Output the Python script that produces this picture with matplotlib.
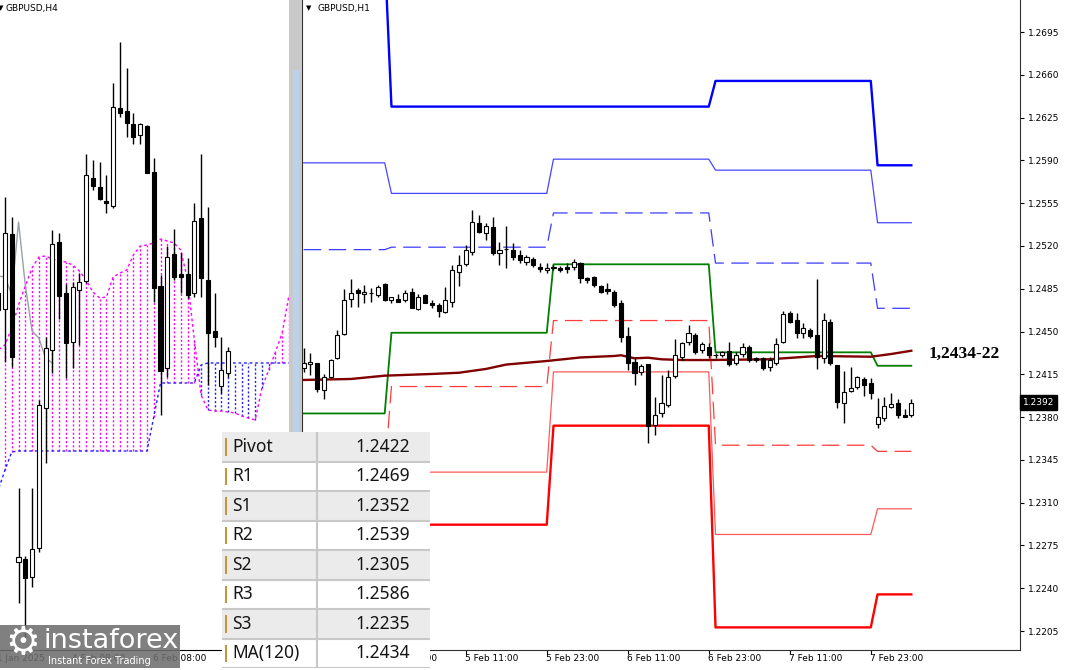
import numpy as np
import matplotlib.pyplot as plt
from matplotlib.patches import Rectangle
from matplotlib.transforms import blended_transform_factory

W, H = 1068, 670

# ---------------- H1 candles (bar index 0 = 4 Feb 11:00) ----------------
h1_open = [1.24202, 1.24234, 1.24243, 1.24022, 1.24126, 1.24281, 1.24477, 1.24764, 1.24840, 1.24807,
           1.24818, 1.24799, 1.24889, 1.24758, 1.24766, 1.24758, 1.24823, 1.24684, 1.24799, 1.24736,
           1.24717, 1.24662, 1.24742, 1.24990, 1.25050, 1.25153, 1.25390, 1.25304, 1.25358, 1.25140,
           1.25178, 1.25167, 1.25126, 1.25071, 1.25091, 1.25028, 1.25003, 1.25017, 1.25020, 1.25030,
           1.25030, 1.25063, 1.24936, 1.24944, 1.24873, 1.24850, 1.24826, 1.24736, 1.24464, 1.24253,
           1.24171, 1.24234, 1.23735, 1.23831, 1.23899, 1.24136, 1.24294, 1.24417, 1.24472, 1.24349,
           1.24376, 1.24308, 1.24308, 1.24343, 1.24245, 1.24316, 1.24371, 1.24281, 1.24281, 1.24212,
           1.24240, 1.24417, 1.24649, 1.24594, 1.24491, 1.24513, 1.24472, 1.24281, 1.24580, 1.24226,
           1.23913, 1.24016, 1.24044, 1.24109, 1.24077, 1.23744, 1.23790, 1.23880, 1.23913, 1.23817,
           1.23817]
h1_high = [1.24365, 1.24327, 1.24245, 1.24153, 1.24275, 1.24513, 1.24848, 1.24930, 1.24856, 1.24881,
           1.24856, 1.24881, 1.24897, 1.24783, 1.24807, 1.24840, 1.24859, 1.24807, 1.24807, 1.24758,
           1.24733, 1.24867, 1.25044, 1.25126, 1.25208, 1.25494, 1.25453, 1.25385, 1.25439, 1.25235,
           1.25363, 1.25224, 1.25167, 1.25126, 1.25112, 1.25058, 1.25058, 1.25044, 1.25036, 1.25063,
           1.25093, 1.25071, 1.24949, 1.24954, 1.24881, 1.24895, 1.24840, 1.24758, 1.24540, 1.24294,
           1.24234, 1.24234, 1.23967, 1.24144, 1.24185, 1.24436, 1.24417, 1.24553, 1.24491, 1.24417,
           1.24404, 1.24322, 1.24343, 1.24417, 1.24335, 1.24404, 1.24390, 1.24294, 1.24294, 1.24294,
           1.24445, 1.24670, 1.24670, 1.24649, 1.24567, 1.24527, 1.24927, 1.24649, 1.24600, 1.24226,
           1.24180, 1.24212, 1.24136, 1.24126, 1.24117, 1.23954, 1.23967, 1.23995, 1.23946, 1.23864,
           1.23946]
h1_low = [1.24169, 1.24144, 1.24007, 1.23948, 1.24120, 1.24275, 1.24472, 1.24703, 1.24703, 1.24733,
          1.24744, 1.24783, 1.24752, 1.24733, 1.24742, 1.24744, 1.24690, 1.24676, 1.24733, 1.24692,
          1.24621, 1.24649, 1.24703, 1.24873, 1.25036, 1.25126, 1.25304, 1.25249, 1.25126, 1.25044,
          1.25017, 1.25085, 1.25058, 1.25044, 1.25030, 1.24990, 1.24976, 1.25003, 1.24990, 1.24981,
          1.25003, 1.24895, 1.24895, 1.24862, 1.24813, 1.24807, 1.24701, 1.24417, 1.24185, 1.24063,
          1.24144, 1.23591, 1.23654, 1.23803, 1.23880, 1.24117, 1.24267, 1.24390, 1.24316, 1.24322,
          1.24281, 1.24281, 1.24294, 1.24218, 1.24226, 1.24294, 1.24253, 1.24253, 1.24185, 1.24180,
          1.24226, 1.24404, 1.24567, 1.24445, 1.24445, 1.24445, 1.24191, 1.24240, 1.24226, 1.23872,
          1.23749, 1.24007, 1.24027, 1.23973, 1.23946, 1.23709, 1.23771, 1.23872, 1.23790, 1.23798,
          1.23803]
h1_close = [1.24243, 1.24253, 1.24030, 1.24131, 1.24267, 1.24472, 1.24758, 1.24818, 1.24818, 1.24823,
            1.24818, 1.24867, 1.24758, 1.24783, 1.24744, 1.24815, 1.24690, 1.24783, 1.24736, 1.24717,
            1.24668, 1.24758, 1.25003, 1.25044, 1.25167, 1.25398, 1.25312, 1.25363, 1.25140, 1.25167,
            1.25178, 1.25112, 1.25085, 1.25107, 1.25044, 1.25014, 1.25017, 1.25030, 1.25003, 1.25009,
            1.25071, 1.24936, 1.24922, 1.24881, 1.24821, 1.24834, 1.24717, 1.24458, 1.24245, 1.24163,
            1.24218, 1.23727, 1.23817, 1.23913, 1.24126, 1.24308, 1.24404, 1.24486, 1.24335, 1.24398,
            1.24308, 1.24308, 1.24335, 1.24234, 1.24308, 1.24376, 1.24267, 1.24267, 1.24199, 1.24267,
            1.24398, 1.24643, 1.24580, 1.24486, 1.24527, 1.24464, 1.24289, 1.24594, 1.24240, 1.23926,
            1.24008, 1.24036, 1.24126, 1.24063, 1.24000, 1.23798, 1.23891, 1.23905, 1.23817, 1.23803,
            1.23918]

# daily pivot levels (4 Feb .. 8 Feb), bars per day
day_len = [13, 24, 24, 24, 6]
lvl_r3 = [1.2760, 1.2634, 1.2634, 1.2655, 1.2586]
lvl_r2 = [1.2588, 1.2563, 1.2591, 1.2582, 1.2539]
lvl_r1 = [1.2517, 1.2519, 1.2547, 1.2506, 1.2469]
lvl_pp = [1.2383, 1.2449, 1.2505, 1.2433, 1.2422]
lvl_s1 = [1.2335, 1.2405, 1.2459, 1.2357, 1.2352]
lvl_s2 = [1.2290, 1.2335, 1.2417, 1.2284, 1.2305]
lvl_s3 = [1.2250, 1.2292, 1.2373, 1.2208, 1.2235]

# MA(120) read at some bars
ma_idx = [0, 7, 12, 19, 23, 27, 30, 36, 41, 46, 47, 49, 51, 53, 56, 60, 69, 76, 84, 87, 90]
ma_val = [1.24104, 1.24112, 1.24139, 1.24153, 1.24163, 1.24194, 1.24230, 1.24259, 1.24288, 1.24300,
          1.24306, 1.24281, 1.24286, 1.24273, 1.24267, 1.24267, 1.24273, 1.24300, 1.24294, 1.24316,
          1.24343]

h1_ticks = [1.2205, 1.2240, 1.2275, 1.2310, 1.2345, 1.2380, 1.2415, 1.2450, 1.2485, 1.2520,
            1.2555, 1.2590, 1.2625, 1.2660, 1.2695]
h1_xtick_idx = [12, 24, 36, 48, 60, 72, 84]
h1_xtick_lab = ['4 Feb 23:00', '5 Feb 11:00', '5 Feb 23:00', '6 Feb 11:00',
                '6 Feb 23:00', '7 Feb 11:00', '7 Feb 23:00']

# ---------------- H4 candles (bar index -1 .. 33) ----------------
h4_open = [1.24245, 1.24164, 1.24540, 1.22899, 1.22915, 1.22825, 1.22970, 1.23670, 1.23960, 1.24500,
           1.24245, 1.24000, 1.24260, 1.24305, 1.24820, 1.24775, 1.24705, 1.24680, 1.25170, 1.25155,
           1.25090, 1.25035, 1.25080, 1.24850, 1.24280, 1.23870, 1.24440, 1.24340, 1.24340, 1.24245,
           1.24620, 1.24310, 1.24055, 1.23780, 1.23845]
h4_high = [1.24285, 1.24727, 1.24627, 1.23270, 1.22930, 1.23270, 1.23710, 1.24025, 1.24560, 1.24545,
           1.24290, 1.24300, 1.24345, 1.24940, 1.24910, 1.24900, 1.24835, 1.25295, 1.25500, 1.25370,
           1.25145, 1.25095, 1.25085, 1.24920, 1.24335, 1.24480, 1.24565, 1.24445, 1.24420, 1.24695,
           1.24940, 1.24675, 1.24245, 1.24025, 1.23975]
h4_low = [1.24135, 1.23899, 1.23877, 1.22695, 1.22510, 1.22775, 1.22950, 1.23395, 1.23845, 1.24115,
          1.23820, 1.23870, 1.23985, 1.24295, 1.24760, 1.24710, 1.24645, 1.24670, 1.25125, 1.25025,
          1.24990, 1.24990, 1.24845, 1.24200, 1.23635, 1.23825, 1.24310, 1.24245, 1.24220, 1.24225,
          1.24225, 1.23785, 1.23975, 1.23745, 1.23825]
h4_close = [1.24160, 1.24547, 1.23925, 1.22927, 1.22820, 1.22965, 1.23685, 1.23970, 1.24490, 1.24230,
            1.23995, 1.24275, 1.24300, 1.24835, 1.24780, 1.24715, 1.24695, 1.25175, 1.25145, 1.25095,
            1.25025, 1.25090, 1.24845, 1.24270, 1.23855, 1.24425, 1.24325, 1.24325, 1.24235, 1.24605,
            1.24320, 1.24045, 1.24025, 1.23860, 1.23955]

# Ichimoku cloud (bar index -1 .. 42)
span_a = [1.23960, 1.23985, 1.24070, 1.24185, 1.24280, 1.24370, 1.24425, 1.24430, 1.24415, 1.24405,
          1.24400, 1.24385, 1.24355, 1.24310, 1.24250, 1.24220, 1.24225, 1.24325, 1.24345, 1.24360,
          1.24435, 1.24480, 1.24485, 1.24495, 1.24515, 1.24505, 1.24495, 1.24460, 1.24310, 1.24010,
          1.23735, 1.23660, 1.23655, 1.23655, 1.23650, 1.23645, 1.23630, 1.23620, 1.23610, 1.23770,
          1.23860, 1.23950, 1.24045, 1.24235]
span_b = [1.23260, 1.23360, 1.23450, 1.23455, 1.23455, 1.23455, 1.23455, 1.23455, 1.23455, 1.23455,
          1.23455, 1.23455, 1.23455, 1.23455, 1.23455, 1.23455, 1.23455, 1.23455, 1.23455, 1.23455,
          1.23455, 1.23455, 1.23455, 1.23625, 1.23795, 1.23795, 1.23795, 1.23795, 1.23795, 1.23795,
          1.23885, 1.23895, 1.23895, 1.23895, 1.23895, 1.23895, 1.23895, 1.23895, 1.23895, 1.23895,
          1.23895, 1.23895, 1.23895, 1.23895]
chikou = [1.24330, 1.24325, 1.24235, 1.24600, 1.24285, 1.24055, 1.24020, 1.23920, 1.23895]

h4_xlab_idx = [-2, 10, 22]
h4_xlab = ['31 Jan 2025', '4 Feb 08:00', '6 Feb 08:00']

tbl_names = ['Pivot', 'R1', 'S1', 'R2', 'S2', 'R3', 'S3', 'MA(120)']
tbl_values = ['1.2422', '1.2469', '1.2352', '1.2539', '1.2305', '1.2586', '1.2235', '1.2434']

last_price = 1.2392


def box(x0, y0, x1, y1):
    return [x0 / W, 1 - y1 / H, (x1 - x0) / W, (y1 - y0) / H]


def draw_candles(ax, start, o, h, l, c):
    o, h, l, c = map(np.asarray, (o, h, l, c))
    xs = np.arange(start, start + len(o))
    ax.vlines(xs, l, h, color='black', lw=1, zorder=5)
    fill = np.where(c >= o, 'white', 'black')
    ax.bar(xs, np.abs(c - o), 0.6, bottom=np.minimum(o, c), color=fill,
           edgecolor='black', linewidth=0.8, zorder=6)


fig = plt.figure(figsize=(W / 100, H / 100), dpi=100)
fig.patch.set_facecolor('white')

# panel separator
fig.patches.append(Rectangle((289 / W, 1 - 650 / H), 13 / W, 650 / H, transform=fig.transFigure,
                             facecolor='#c9c9c9', edgecolor='none', zorder=0))
fig.patches.append(Rectangle((293 / W, 1 - 650 / H), 6 / W, 580 / H, transform=fig.transFigure,
                             facecolor='#bcd2ea', edgecolor='none', zorder=0))

# ---------------- H4 panel ----------------
ax4 = fig.add_axes(box(0, 0, 291, 650))
ax4.set_xlim(-0.74, 42.3)
ax4.set_ylim(1.2246, 1.2571)
for s in ['top', 'left']:
    ax4.spines[s].set_visible(False)
ax4.spines['right'].set_color('#303030')
ax4.set_xticks([])
ax4.set_yticks([])

k = np.arange(-1, -1 + len(span_a))
a = np.array(span_a)
b = np.array(span_b)
for kk, va, vb in zip(k, a, b):
    col = '#ff00ff' if va > vb else '#2020ff'
    ax4.vlines(kk, min(va, vb), max(va, vb), color=col, lw=1, linestyles=(0, (1.5, 1.5)), zorder=2)
ax4.plot(k, a, color='#ff00ff', lw=1, ls=(0, (2, 2)), zorder=3)
ax4.plot(k, b, color='#2020ff', lw=1, ls=(0, (2, 2)), zorder=3)
ax4.plot(np.arange(-1, -1 + len(chikou)), chikou, color='#9aa0a8', lw=1, zorder=4)
draw_candles(ax4, -1, h4_open, h4_high, h4_low, h4_close)

tr4 = blended_transform_factory(ax4.transData, ax4.transAxes)
for kk, lab in zip(h4_xlab_idx, h4_xlab):
    ax4.text(kk - 0.1, -0.0138, lab, transform=tr4, ha='left', va='center', fontsize=6.5,
             clip_on=False)
fig.text(1 / W, 1 - 8 / H, '\u25bc', fontsize=5, va='center', ha='center')
fig.text(6 / W, 1 - 8 / H, 'GBPUSD,H4', fontsize=6.5, va='center', ha='left')

# ---------------- H1 panel ----------------
ax1 = fig.add_axes(box(302, 0, 1020, 650))
ax1.set_xlim(-0.25, 106.1)
ax1.set_ylim(1.21895, 1.27212)
ax1.spines['top'].set_visible(False)
for s in ['left', 'right', 'bottom']:
    ax1.spines[s].set_color('#303030')
ax1.yaxis.tick_right()
ax1.set_yticks(h1_ticks)
ax1.set_yticklabels(['%.4f' % t for t in h1_ticks], fontsize=6.5)
ax1.tick_params(axis='y', length=3, pad=3, width=0.8)
ax1.set_xticks(h1_xtick_idx)
ax1.set_xticklabels([''] * len(h1_xtick_idx))
ax1.tick_params(axis='x', length=3, width=0.8)

idx = np.arange(sum(day_len))
levels = [
    (lvl_r3, '#0000ff', 1.7, '-'),
    (lvl_r2, '#4646ff', 0.9, '-'),
    (lvl_r1, '#3c3cff', 0.9, (0, (14, 6))),
    (lvl_s1, '#ff3c3c', 0.9, (0, (14, 6))),
    (lvl_s2, '#ff5a5a', 0.9, '-'),
    (lvl_s3, '#ff0000', 1.7, '-'),
    (lvl_pp, '#008000', 1.3, '-'),
]
for lv, col, lw, ls in levels:
    ax1.plot(idx, np.repeat(lv, day_len), color=col, lw=lw, ls=ls, zorder=3)
ax1.plot(ma_idx, ma_val, color='#800000', lw=1.7, zorder=4)
draw_candles(ax1, 0, h1_open, h1_high, h1_low, h1_close)

tr1 = blended_transform_factory(ax1.transData, ax1.transAxes)
for ii, lab in zip(h1_xtick_idx, h1_xtick_lab):
    ax1.text(ii - 0.15, -0.0138, lab, transform=tr1, ha='left', va='center', fontsize=6.5,
             clip_on=False)

ax1.text(92.5, 1.2432, '1,2434-22', fontsize=12.5, fontweight='bold', family='Liberation Serif',
         ha='left', va='center', zorder=7)
trp = blended_transform_factory(ax1.transAxes, ax1.transData)
ax1.text(1.004, last_price, '%.4f' % last_price, transform=trp, fontsize=6.5, color='white',
         ha='left', va='center', clip_on=False,
         bbox=dict(boxstyle='square,pad=0.3', facecolor='black', edgecolor='black'))
fig.text(309 / W, 1 - 8 / H, '\u25bc', fontsize=5, va='center', ha='center')
fig.text(318 / W, 1 - 8 / H, 'GBPUSD,H1', fontsize=6.5, va='center', ha='left')

# ---------------- levels table ----------------
axt = fig.add_axes(box(222, 432, 430, 668), zorder=10)
axt.set_xlim(0, 208)
axt.set_ylim(236, 0)
axt.axis('off')
row_h = 236 / len(tbl_names)
for r, (nm, val) in enumerate(zip(tbl_names, tbl_values)):
    y0 = r * row_h
    axt.add_patch(Rectangle((0, y0), 208, row_h, facecolor='#ebebeb' if r % 2 == 0 else 'white',
                            edgecolor='none'))
    axt.plot([0, 208], [y0 + row_h, y0 + row_h], color='#c8c8c8', lw=1.5)
    axt.add_patch(Rectangle((2.5, y0 + 6), 2, row_h - 12, facecolor='#c8943a', edgecolor='none'))
    axt.text(10, y0 + row_h / 2, nm, fontsize=12.5, family='Noto Sans', color='#151515',
             ha='left', va='center')
    axt.text(188, y0 + row_h / 2, val, fontsize=12.5, family='Noto Sans', color='#151515',
             ha='right', va='center')
axt.plot([95, 95], [0, 236], color='#c8c8c8', lw=1.5)

# ---------------- watermark ----------------
axl = fig.add_axes(box(0, 625, 180, 668), zorder=11)
axl.set_xlim(0, 180)
axl.set_ylim(43, 0)
axl.axis('off')
axl.add_patch(Rectangle((0, 0), 180, 43, facecolor='#6e6e6e', alpha=0.88, edgecolor='none'))
axl.text(23, 18, '\u2699', fontsize=28, color='white', ha='center', va='center')
axl.text(44, 16, 'instaforex', fontsize=19.5, color='white', ha='left', va='center')
axl.text(48, 36, 'Instant Forex Trading', fontsize=7, color='white', ha='left', va='center')

fig.savefig('out.png', dpi=100, facecolor='white')
